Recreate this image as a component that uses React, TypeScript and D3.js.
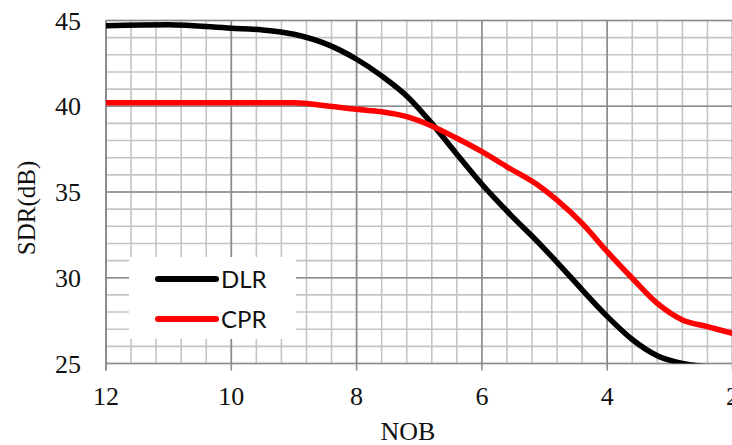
import React from "react";
import * as d3 from "d3";

const dlrNob = [12, 11, 10, 9.5, 9, 8.43, 8, 7.6, 7.2, 6.8, 6.4, 6.0, 5.55, 5.07, 4.8, 4.4, 4.0, 3.6, 3.2, 2.8, 2.4, 2.0];
const dlr = [44.7, 44.75, 44.55, 44.45, 44.2, 43.55, 42.74, 41.77, 40.6, 39.0, 37.2, 35.45, 33.7, 31.95, 30.9, 29.3, 27.75, 26.4, 25.45, 25.0, 24.8, 24.6];
const cprNob = [12, 11, 10, 9, 8.43, 8, 7.6, 7.2, 6.8, 6.4, 6.0, 5.6, 5.07, 4.8, 4.4, 4.0, 3.6, 3.2, 2.8, 2.4, 2.0];
const cpr = [40.2, 40.2, 40.2, 40.2, 40.0, 39.82, 39.68, 39.39, 38.85, 38.13, 37.35, 36.47, 35.31, 34.53, 33.17, 31.52, 29.97, 28.5, 27.54, 27.15, 26.76];
const xTicks = [12, 10, 8, 6, 4, 2];
const yTicks = [25, 30, 35, 40, 45];
const seriesNames = ["DLR", "CPR"];
const seriesColors = ["#000000", "#ff0000"];

export default function App() {
  const W = 732, H = 445;
  const left = 106, right = 732.5, top = 20.5, bottom = 363.5;
  const x = d3.scaleLinear().domain([12, 2]).range([left, right]);
  const y = d3.scaleLinear().domain([25, 45]).range([bottom, top]);

  const minorX = d3.range(0, 26).map((i) => 12 - i * 0.4);
  const minorY = d3.range(25, 46, 1);

  const line = d3
    .line<[number, number]>()
    .x((d) => x(d[0]))
    .y((d) => y(d[1]))
    .curve(d3.curveMonotoneX);

  const dlrPts: [number, number][] = dlrNob.map((n, i) => [n, dlr[i]]);
  const cprPts: [number, number][] = cprNob.map((n, i) => [n, cpr[i]]);

  const serif = "'Liberation Serif', 'Times New Roman', serif";
  const sans = "Lato, 'Liberation Sans', sans-serif";

  return (
    <svg width={W} height={H} style={{ position: "absolute", left: 0, top: 0, background: "#fff" }}>
      <defs>
        <clipPath id="plotClip">
          <rect x={left} y={top - 6} width={right - left + 2} height={bottom - top + 6} />
        </clipPath>
      </defs>
      <rect x={0} y={0} width={W} height={H} fill="#fff" />
      {minorX.map((v, i) => (
        <line key={"mx" + i} x1={x(v)} x2={x(v)} y1={top} y2={bottom} stroke="#c4c4c4" strokeWidth={1.6} />
      ))}
      {minorY.map((v, i) => (
        <line key={"my" + i} x1={left} x2={right} y1={y(v)} y2={y(v)} stroke="#c4c4c4" strokeWidth={1.6} />
      ))}
      {xTicks.map((v, i) => (
        <line key={"Mx" + i} x1={x(v)} x2={x(v)} y1={top} y2={bottom + 7} stroke="#8c8c8c" strokeWidth={1.6} />
      ))}
      {yTicks.map((v, i) => (
        <line key={"My" + i} x1={left} x2={right} y1={y(v)} y2={y(v)} stroke="#8c8c8c" strokeWidth={1.6} />
      ))}
      <line x1={left} x2={left} y1={top} y2={bottom + 7} stroke="#8c8c8c" strokeWidth={1.6} />
      <rect x={129} y={257} width={167} height={82} fill="#fff" />
      <line x1={158} x2={216} y1={279} y2={279} stroke={seriesColors[0]} strokeWidth={6} strokeLinecap="round" />
      <line x1={158} x2={216} y1={319} y2={319} stroke={seriesColors[1]} strokeWidth={6} strokeLinecap="round" />
      <text x={221} y={288} fontFamily={sans} fontSize={24} fill="#111">{seriesNames[0]}</text>
      <text x={221} y={328} fontFamily={sans} fontSize={24} fill="#111">{seriesNames[1]}</text>
      <g clipPath="url(#plotClip)">
        <path d={line(dlrPts) || ""} fill="none" stroke={seriesColors[0]} strokeWidth={5.5} strokeLinejoin="round" />
        <path d={line(cprPts) || ""} fill="none" stroke={seriesColors[1]} strokeWidth={5.5} strokeLinejoin="round" />
      </g>
      {xTicks.map((v, i) => (
        <text key={"xl" + i} x={x(v)} y={405} textAnchor="middle" fontFamily={serif} fontSize={26} fill="#111">
          {v}
        </text>
      ))}
      {yTicks.map((v, i) => (
        <text key={"yl" + i} x={81} y={y(v) + 9} textAnchor="end" fontFamily={serif} fontSize={26} fill="#111">
          {v}
        </text>
      ))}
      <text x={408} y={440} textAnchor="middle" fontFamily={serif} fontSize={26} fill="#111">NOB</text>
      <text
        transform={`translate(35, 208) rotate(-90)`}
        textAnchor="middle"
        fontFamily={serif}
        fontSize={25}
        fill="#111"
      >
        SDR(dB)
      </text>
    </svg>
  );
}
